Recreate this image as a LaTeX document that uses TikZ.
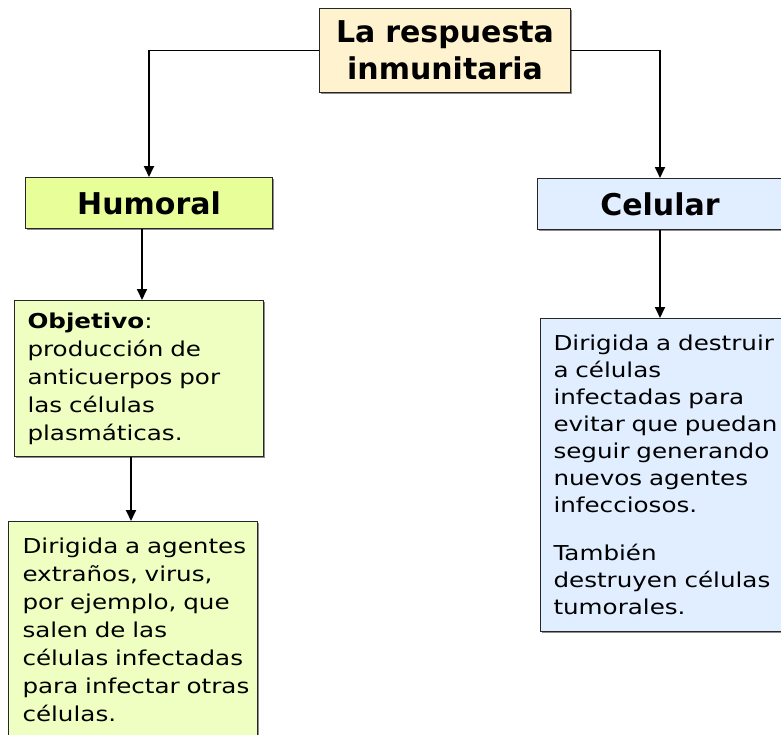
\documentclass[tikz,border=0pt]{standalone}
\usepackage{fontspec}
\setmainfont{DejaVu Sans}
\newfontfamily\bodyfont{DejaVu Sans}[FakeStretch=1.2]
\hyphenpenalty=10000
\exhyphenpenalty=10000
\definecolor{cCream}{HTML}{FFF3CF}
\definecolor{cLime}{HTML}{E8FF99}
\definecolor{cLimeLight}{HTML}{EFFFC2}
\definecolor{cSky}{HTML}{E0EEFF}
\usetikzlibrary{arrows.meta}
\usetikzlibrary{shadows}

\begin{document}
\begin{tikzpicture}[x=1bp,y=-1bp,
	box/.style={draw=black!85, line width=1bp, inner xsep=13bp, inner ysep=0bp, anchor=north west,
		drop shadow={shadow xshift=1.5bp, shadow yshift=-1.5bp, fill=black!45, opacity=1}},
	head/.style={box, align=center, font=\bfseries\fontsize{30bp}{37bp}\selectfont},
	body/.style={box, align=left, font=\bodyfont\fontsize{20.5bp}{28bp}\selectfont},
	link/.style={line width=1.8bp, -{Triangle[length=11bp,width=10bp]}}]
		\useasboundingbox (0,0) rectangle (781,735);
		% title and the two branches
		\node[head, fill=cCream, minimum width=251bp, minimum height=84bp, text width=225bp] (resp) at (319,8) {La respuesta\\inmunitaria};
		\node[head, fill=cLime, minimum width=247bp, minimum height=51bp, text width=221bp] (humoral) at (25,177) {Humoral};
		\node[head, fill=cSky, minimum width=245bp, minimum height=51bp, text width=219bp] (celular) at (537,178) {Celular};
		% text boxes (~ keeps each line whole)
		\node[body, fill=cLimeLight, minimum width=249bp, minimum height=156bp, text width=223bp] (objetivo) at (14,300)
			{\textbf{Objetivo}:\\producción~de\\anticuerpos~por\\las~células\\plasmáticas.};
		\node[body, fill=cLimeLight, minimum width=249bp, minimum height=216bp, text width=221bp, inner xsep=14bp] (agentes) at (8,521)
			{Dirigida~a~agentes\\extraños,~virus,\\por~ejemplo,~que\\salen~de~las\\células~infectadas\\para~infectar~otras\\células.};
		\node[body, fill=cSky, minimum width=243bp, minimum height=313bp, text width=217bp, font=\bodyfont\fontsize{20.5bp}{27bp}\selectfont] (destruir) at (540,318)
			{Dirigida~a~destruir\\a~células\\infectadas~para\\evitar~que~puedan\\seguir~generando\\nuevos~agentes\\infecciosos.\\[21bp]También\\destruyen~células\\tumorales.};
		% connectors
		\draw[link] (resp.west) -| (humoral.north);
		\draw[link] (resp.east) -| (celular.north);
		\draw[link] ([xshift=-7bp]humoral.south) -- ([xshift=-7bp]humoral.south |- objetivo.north);
		\draw[link] ([xshift=-8bp]objetivo.south) -- ([xshift=-8bp]objetivo.south |- agentes.north);
		\draw[link] (celular.south) -- (celular.south |- destruir.north);
\end{tikzpicture}
\end{document}
